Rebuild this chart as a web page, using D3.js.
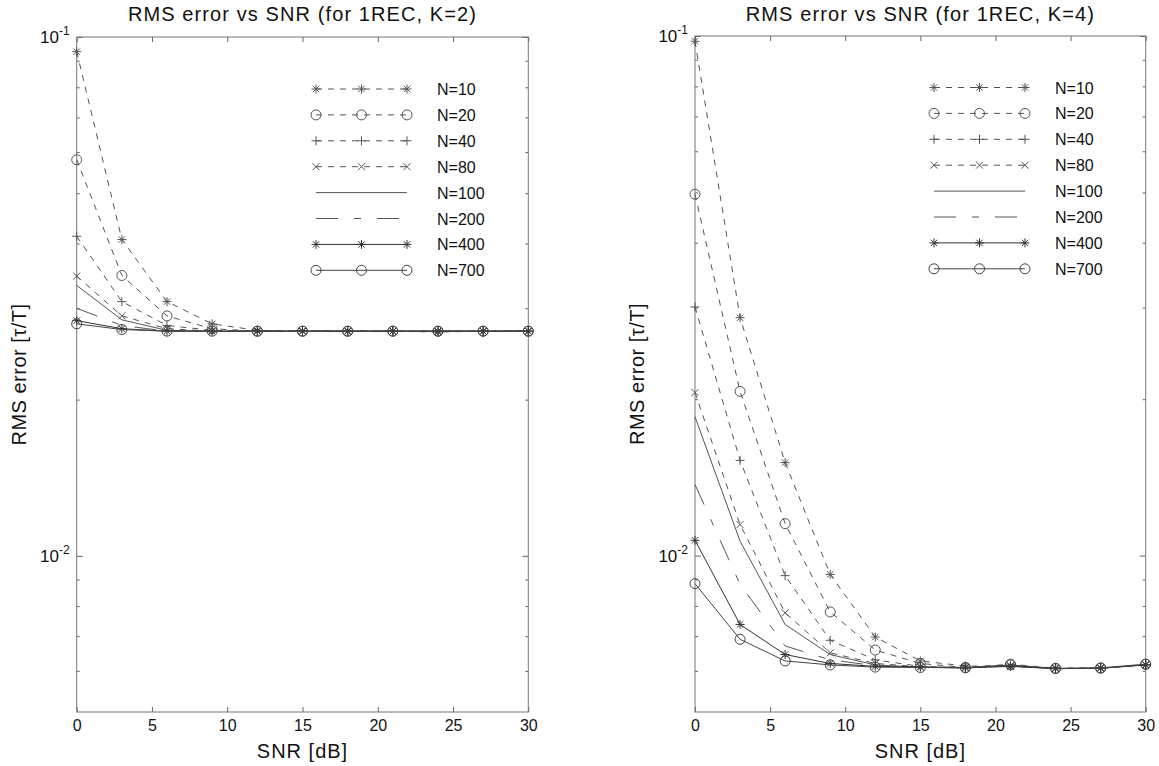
<!DOCTYPE html>
<html>
<head>
<meta charset="utf-8">
<script src="https://cdn.jsdelivr.net/npm/d3@7"></script>
<style>
  html, body { margin: 0; padding: 0; background: #fff; }
  svg { display: block; }
  text { font-family: "Liberation Sans", Arial, Helvetica, sans-serif; fill: #111; }
</style>
</head>
<body>
<svg id="chart" width="1159" height="766"></svg>
<script>
// ---------------- data ----------------
const snr = [0, 3, 6, 9, 12, 15, 18, 21, 24, 27, 30];
const seriesLabels = ["N=10", "N=20", "N=40", "N=80", "N=100", "N=200", "N=400", "N=700"];
const xTicks = [0, 5, 10, 15, 20, 25, 30];
const yMajorTicks = [0.1, 0.01];
const yMajorLabels = [["10", "-1"], ["10", "-2"]];
const titles = ["RMS error vs SNR (for 1REC, K=2)", "RMS error vs SNR (for 1REC, K=4)"];
const xLabel = "SNR [dB]";
const yLabel = "RMS error [\u03C4/T]";

// K = 2
const k2_N10  = [0.0937, 0.0407, 0.0309, 0.0280, 0.0272, 0.0271, 0.0271, 0.0271, 0.0270, 0.0271, 0.0271];
const k2_N20  = [0.0580, 0.0347, 0.0290, 0.0274, 0.0271, 0.0271, 0.0271, 0.0271, 0.0271, 0.0271, 0.0271];
const k2_N40  = [0.0413, 0.0309, 0.0278, 0.0272, 0.0271, 0.0271, 0.0271, 0.0271, 0.0271, 0.0271, 0.0271];
const k2_N80  = [0.0346, 0.0290, 0.0274, 0.0271, 0.0271, 0.0271, 0.0271, 0.0271, 0.0271, 0.0271, 0.0271];
const k2_N100 = [0.0332, 0.0285, 0.0272, 0.0271, 0.0271, 0.0271, 0.0271, 0.0271, 0.0271, 0.0271, 0.0271];
const k2_N200 = [0.0300, 0.0278, 0.0271, 0.0271, 0.0271, 0.0271, 0.0271, 0.0271, 0.0271, 0.0271, 0.0271];
const k2_N400 = [0.0284, 0.0274, 0.0271, 0.0271, 0.0271, 0.0271, 0.0271, 0.0271, 0.0271, 0.0271, 0.0271];
const k2_N700 = [0.0280, 0.0273, 0.0271, 0.0271, 0.0271, 0.0271, 0.0271, 0.0271, 0.0271, 0.0271, 0.0271];

// K = 4
const k4_N10  = [0.0977, 0.0287, 0.0151, 0.0092, 0.00697, 0.00627, 0.00613, 0.00612, 0.00608, 0.00608, 0.00616];
const k4_N20  = [0.0496, 0.0207, 0.01152, 0.00779, 0.00658, 0.00620, 0.00609, 0.00618, 0.00607, 0.00608, 0.00618];
const k4_N40  = [0.0301, 0.01525, 0.00915, 0.00687, 0.00630, 0.00612, 0.00609, 0.00615, 0.00607, 0.00608, 0.00617];
const k4_N80  = [0.0206, 0.01147, 0.00776, 0.00650, 0.00620, 0.00611, 0.00609, 0.00614, 0.00606, 0.00607, 0.00617];
const k4_N100 = [0.0185, 0.01066, 0.00737, 0.00645, 0.00616, 0.00610, 0.00608, 0.00613, 0.00606, 0.00607, 0.00616];
const k4_N200 = [0.0137, 0.00880, 0.00670, 0.00630, 0.00614, 0.00610, 0.00608, 0.00613, 0.00606, 0.00607, 0.00616];
const k4_N400 = [0.0107, 0.00737, 0.00645, 0.00620, 0.00612, 0.00610, 0.00608, 0.00612, 0.00606, 0.00607, 0.00616];
const k4_N700 = [0.00883, 0.00690, 0.00627, 0.00616, 0.00610, 0.00609, 0.00608, 0.00616, 0.00606, 0.00607, 0.00618];

const k2Series = [k2_N10, k2_N20, k2_N40, k2_N80, k2_N100, k2_N200, k2_N400, k2_N700];
const k4Series = [k4_N10, k4_N20, k4_N40, k4_N80, k4_N100, k4_N200, k4_N400, k4_N700];

// ---------------- styles ----------------
const markerTypes = ["star", "circle", "plus", "x", null, null, "star", "circle"];
const dashTypes   = ["6,6", "6,6", "6,6", "6,6", null, "22,16,7,16", null, null];
const strokeCols  = ["#555", "#555", "#555", "#555", "#555", "#555", "#333", "#444"];

const svg = d3.select("#chart");
const FONT_TICK = 16, FONT_LABEL = 20, FONT_TITLE = 20, FONT_LEGEND = 16;

function marker(g, type, cx, cy, col) {
  if (!type) return;
  const s = g.append("g").attr("transform", `translate(${cx},${cy})`)
    .attr("stroke", col).attr("stroke-width", 1).attr("fill", "none");
  if (type === "circle") s.append("circle").attr("r", 5);
  if (type === "plus" || type === "star") {
    s.append("path").attr("d", "M-4.5,0H4.5M0,-4.5V4.5");
  }
  if (type === "x" || type === "star") {
    const a = type === "star" ? 3.2 : 3.5;
    s.append("path").attr("d", `M${-a},${-a}L${a},${a}M${-a},${a}L${a},${-a}`);
  }
}

function drawPanel(cfg) {
  const { x0, x1, y0, y1, series, title, legendX, legendY } = cfg;
  const x = d3.scaleLinear().domain([0, 30]).range([x0, x1]);
  const y = d3.scaleLog().domain([0.005, 0.1]).range([y1, y0]);
  const g = svg.append("g");

  // minor ticks
  const minor = [];
  [0.001, 0.01].forEach(d => { for (let m = 2; m <= 9; m++) { const v = m * d; if (v > 0.005 && v < 0.1 && v !== 0.01) minor.push(v); } });

  // bottom axis
  const bx = g.append("g").attr("transform", `translate(0,${y1})`)
    .call(d3.axisBottom(x).tickValues(xTicks).tickSize(-5).tickPadding(8).tickFormat(d3.format("d")));
  bx.selectAll("text").attr("font-size", FONT_TICK).style("font-family", "Liberation Sans, Arial, sans-serif").attr("fill", "#111");
  // top axis
  const tx = g.append("g").attr("transform", `translate(0,${y0})`)
    .call(d3.axisTop(x).tickValues(xTicks).tickSize(-5).tickFormat(""));
  // left / right axes, major + minor
  const ly = g.append("g").attr("transform", `translate(${x0},0)`)
    .call(d3.axisLeft(y).tickValues(yMajorTicks).tickSize(-6).tickFormat(""));
  const lym = g.append("g").attr("transform", `translate(${x0},0)`)
    .call(d3.axisLeft(y).tickValues(minor).tickSize(-3).tickFormat(""));
  const ry = g.append("g").attr("transform", `translate(${x1},0)`)
    .call(d3.axisRight(y).tickValues(yMajorTicks).tickSize(-6).tickFormat(""));
  const rym = g.append("g").attr("transform", `translate(${x1},0)`)
    .call(d3.axisRight(y).tickValues(minor).tickSize(-3).tickFormat(""));
  [bx, tx, ly, lym, ry, rym].forEach(a => {
    a.select(".domain").remove();
    a.selectAll("line").attr("stroke", "#666");
  });

  // box
  g.append("rect").attr("x", x0).attr("y", y0).attr("width", x1 - x0).attr("height", y1 - y0)
    .attr("fill", "none").attr("stroke", "#777").attr("stroke-width", 1);

  // y tick labels
  yMajorTicks.forEach((v, i) => {
    const t = g.append("text").attr("x", x0 - 7).attr("y", y(v) + 6)
      .attr("text-anchor", "end").attr("font-size", 17);
    t.append("tspan").text(yMajorLabels[i][0]);
    t.append("tspan").attr("dy", -8).attr("font-size", 12).text(yMajorLabels[i][1]);
  });

  // title & labels
  g.append("text").attr("x", (x0 + x1) / 2).attr("y", 21).attr("text-anchor", "middle")
    .attr("font-size", FONT_TITLE).attr("letter-spacing", 1.1).text(title);
  g.append("text").attr("x", (x0 + x1) / 2).attr("y", 758).attr("text-anchor", "middle")
    .attr("font-size", FONT_LABEL).attr("letter-spacing", 1).text(xLabel);
  g.append("text").attr("transform", `translate(${x0 - 51},${(y0 + y1) / 2}) rotate(-90)`)
    .attr("text-anchor", "middle").attr("font-size", FONT_LABEL).attr("letter-spacing", 0.5).text(yLabel);

  // series
  const line = d3.line().x((d, i) => x(snr[i])).y(d => y(d));
  series.forEach((vals, si) => {
    const col = strokeCols[si];
    g.append("path").attr("d", line(vals)).attr("fill", "none")
      .attr("stroke", col).attr("stroke-width", 1)
      .attr("stroke-dasharray", dashTypes[si]);
    vals.forEach((v, i) => marker(g, markerTypes[si], x(snr[i]), y(v), col));
  });

  // legend
  const rowH = 25.9, sampleW = 91;
  seriesLabels.forEach((lab, si) => {
    const ly0 = legendY + si * rowH;
    const col = strokeCols[si];
    g.append("line").attr("x1", legendX).attr("x2", legendX + sampleW)
      .attr("y1", ly0).attr("y2", ly0).attr("stroke", col).attr("stroke-width", 1)
      .attr("stroke-dasharray", dashTypes[si]);
    [0, 0.5, 1].forEach(f => marker(g, markerTypes[si], legendX + f * sampleW, ly0, col));
    g.append("text").attr("x", legendX + 121).attr("y", ly0 + 6)
      .attr("font-size", FONT_LEGEND).text(lab);
  });
}

drawPanel({ x0: 76.7, x1: 528.3, y0: 37, y1: 712, series: k2Series, title: titles[0], legendX: 316, legendY: 89 });
drawPanel({ x0: 695, x1: 1145.7, y0: 36, y1: 712, series: k4Series, title: titles[1], legendX: 934, legendY: 87.5 });
</script>
</body>
</html>
